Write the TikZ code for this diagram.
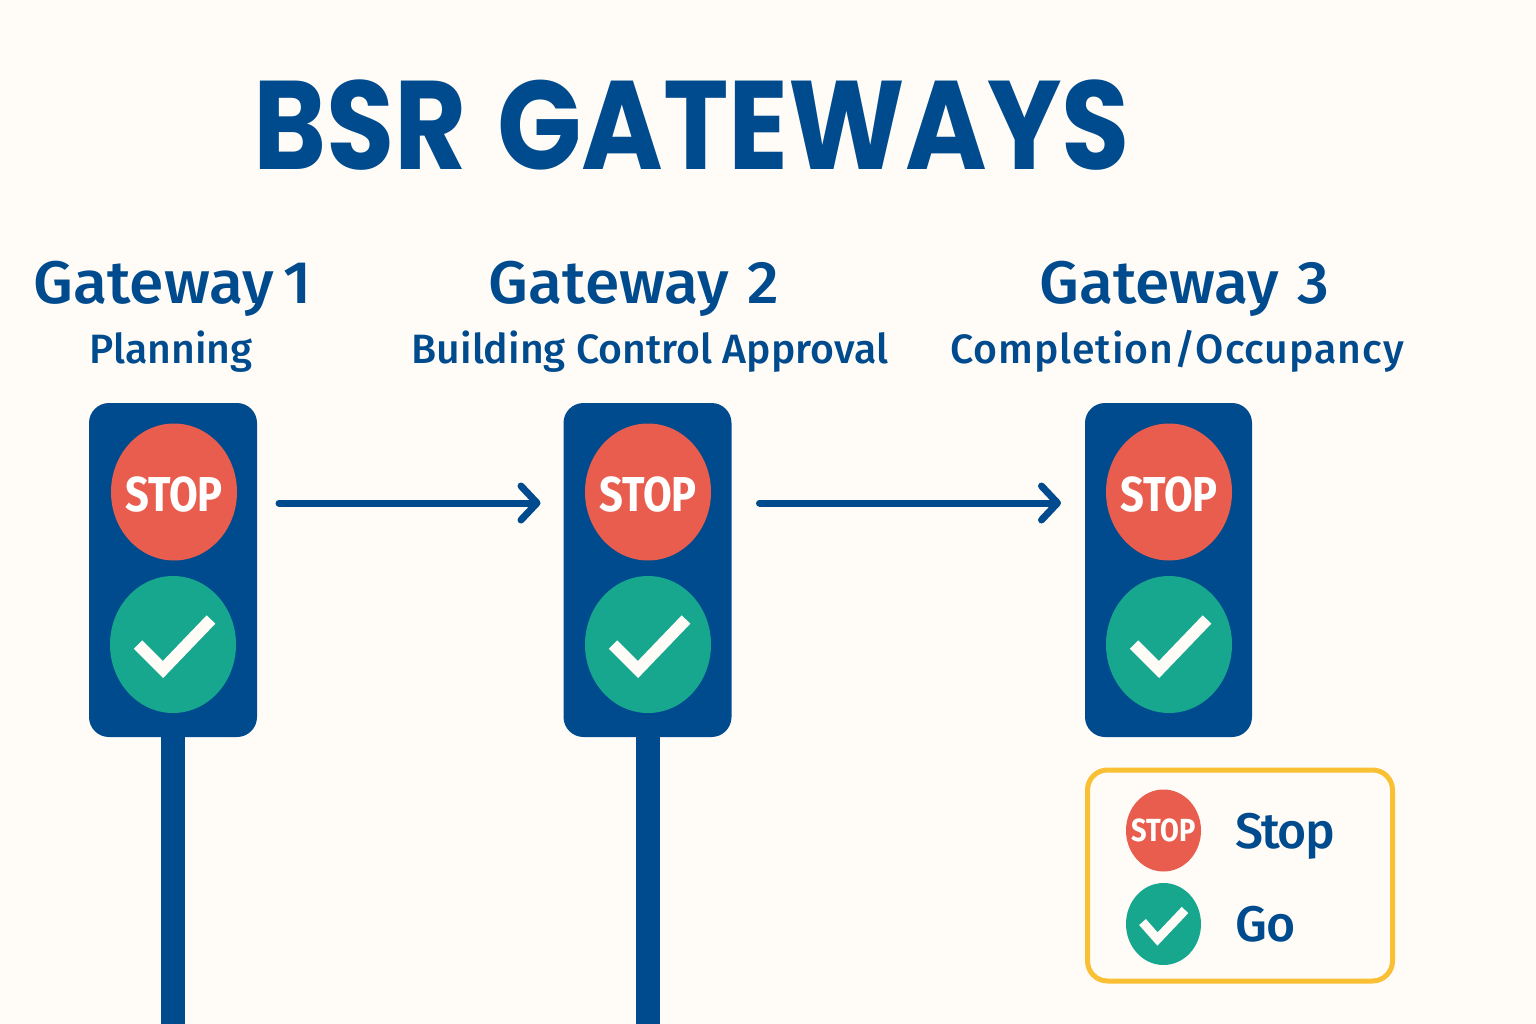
\documentclass[tikz,border=0pt]{standalone}
\usepackage{fontspec}
\setmainfont{Fira Sans}
\newfontfamily\titlefont[FakeStretch=0.88]{Poppins}
\newfontfamily\gatefont[FakeStretch=1.04]{Fira Sans Medium}
\newfontfamily\phasefont{Fira Sans Medium}
\newfontfamily\lampfont[FakeStretch=0.85]{Fira Sans}
\usetikzlibrary{arrows.meta,shapes.geometric}
\definecolor{navy}{HTML}{004B8D}
\definecolor{stopred}{HTML}{E85D4E}
\definecolor{gogreen}{HTML}{17A78F}
\definecolor{paper}{HTML}{FFFCF8}
\definecolor{amber}{HTML}{F9C034}

\begin{document}
\begin{tikzpicture}[x=1pt,y=-1pt,every node/.style={align=center,inner sep=0pt,outer sep=0pt},
	title/.style={anchor=base,text=navy,font=\titlefont\fontsize{126}{126}\selectfont\bfseries},
	gate/.style={anchor=base,text=navy,font=\gatefont\fontsize{60}{60}\selectfont},
	phase/.style={anchor=base,text=navy,font=\phasefont\fontsize{41}{41}\selectfont},
	head/.style={fill=navy,rounded corners=20pt,minimum width=168pt,minimum height=334pt},
	stoplamp/.style={ellipse,inner sep=-40pt,fill=stopred,text=white,minimum width=126pt,minimum height=137pt,font=\lampfont\fontsize{49}{49}\selectfont\bfseries},
	golamp/.style={ellipse,fill=gogreen,minimum width=126pt,minimum height=137pt},
	smallstop/.style={ellipse,inner sep=-25pt,fill=stopred,text=white,minimum width=75pt,minimum height=82pt,font=\lampfont\fontsize{32}{32}\selectfont\bfseries},
	smallgo/.style={ellipse,fill=gogreen,minimum width=75pt,minimum height=82pt},
	tick/.style={draw=paper,line width=12pt,miter limit=10},
	smalltick/.style={draw=paper,line width=9pt,miter limit=10},
	pole/.style={draw=navy,line width=24pt},
	flow/.style={draw=navy,line width=7pt,line cap=round,-{Straight Barb[length=16pt,width=34pt,round]}},
	keybox/.style={draw=amber,line width=5pt,rounded corners=20pt,minimum width=305pt,minimum height=211pt},
	keytext/.style={anchor=base west,text=navy,font=\phasefont\fontsize{50}{50}\selectfont}]
	\path[use as bounding box,fill=paper] (0,0) rectangle (1536,1024);

	\node[title] (bsr) at (691.5,170) {BSR\hspace{7pt} GATEWAYS};

	\node[gate] (gate1) at (172.5,303) {Gateway\hspace{-6pt} 1};
	\node[gate] (gate2) at (634,303) {Gateway\hspace{3pt} 2};
	\node[gate] (gate3) at (1184.5,303) {Gateway\hspace{3pt} 3};
	\node[phase] (phase1) at (171,363) {Planning};
	\node[phase] (phase2) at (650,363) {Building Control Approval};
	\node[phase] (phase3) at (1177,363) {\addfontfeature{LetterSpace=2.3}Completion/Occupancy};

	\coordinate (base1) at (173,1024);
	\coordinate (base2) at (647.5,1024);
	\node[head] (head1) at (173,570) {};
	\node[head] (head2) at (647.5,570) {};
	\node[head,minimum width=167pt] (head3) at (1168.5,570) {};
	\draw[pole] (head1.south) -- (base1);
	\draw[pole] (head2.south) -- (base2);

	\node[stoplamp] (stop1) at (174,492) {\raisebox{-2pt}[\height][0pt]{STOP}};
	\node[stoplamp] (stop2) at (648,492) {\raisebox{-2pt}[\height][0pt]{STOP}};
	\node[stoplamp] (stop3) at (1169,492) {\raisebox{-2pt}[\height][0pt]{STOP}};
	\node[golamp] (go1) at (173,644.5) {};
	\node[golamp] (go2) at (648,644.5) {};
	\node[golamp] (go3) at (1169,644.5) {};
	\draw[tick] ([shift={(-35,0)}]go1.center) -- ([shift={(-10,25)}]go1.center) -- ([shift={(38,-25)}]go1.center);
	\draw[tick] ([shift={(-35,0)}]go2.center) -- ([shift={(-10,25)}]go2.center) -- ([shift={(38,-25)}]go2.center);
	\draw[tick] ([shift={(-35,0)}]go3.center) -- ([shift={(-10,25)}]go3.center) -- ([shift={(38,-25)}]go3.center);

	\draw[flow] ([xshift=22pt,yshift=67pt]head1.east) -- ([xshift=-23pt,yshift=67pt]head2.west);
	\draw[flow] ([xshift=28pt,yshift=67pt]head2.east) -- ([xshift=-24pt,yshift=67pt]head3.west);

	% legend
	\node[keybox] (key) at (1240,875.5) {};
	\node[smallstop] (keystop) at (1163.5,830.5) {STOP};
	\node[smallgo] (keygo) at (1163.5,924) {};
	\draw[smalltick] ([shift={(-21,-2)}]keygo.center) -- ([shift={(-6,15)}]keygo.center) -- ([shift={(21.5,-14)}]keygo.center);
	\node[keytext] (keystoptext) at (1235,848) {\addfontfeature{LetterSpace=-3}Stop};
	\node[keytext] (keygotext) at (1235,941) {Go};
\end{tikzpicture}
\end{document}
